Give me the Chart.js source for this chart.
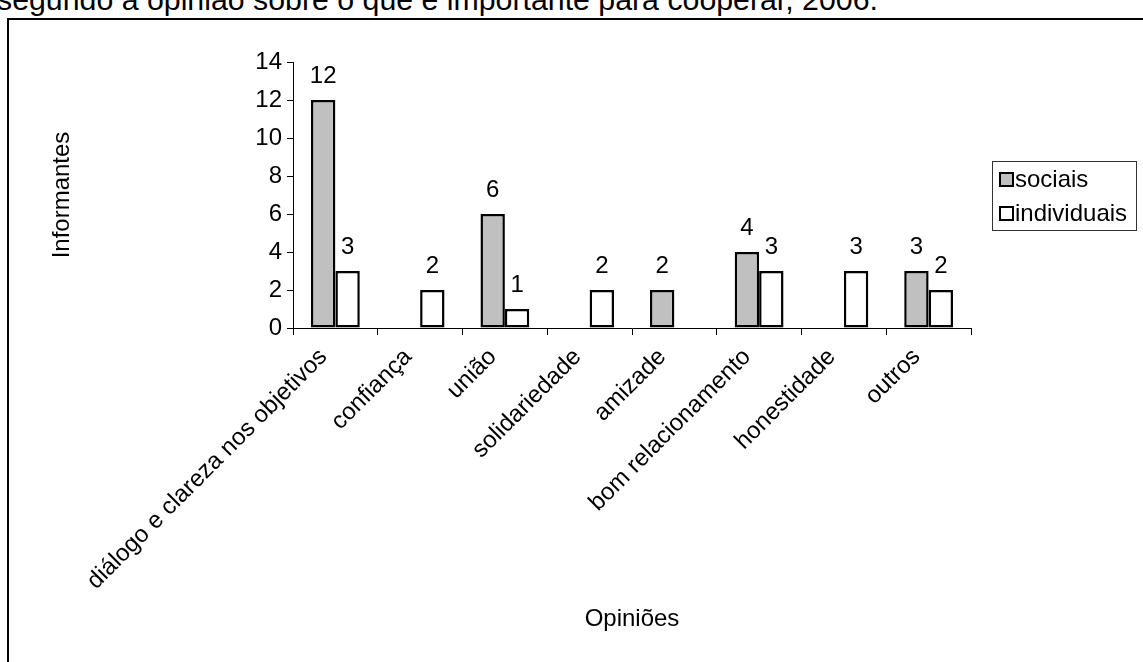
<!DOCTYPE html>
<html lang="pt">
<head>
<meta charset="utf-8">
<title>Informantes segundo a opinião</title>
<script src="https://cdn.jsdelivr.net/npm/chart.js@4/dist/chart.umd.min.js"></script>
<style>
  html, body { margin: 0; padding: 0; background: #fff; overflow: hidden; }
  #wrap { position: relative; width: 1143px; height: 662px; overflow: hidden; }
  #heading {
    position: absolute; left: -3px; top: -15px; margin: 0;
    font: 30.3px "Liberation Sans", Arial, sans-serif; line-height: 30px;
    color: #000; white-space: nowrap;
  }
  #frame {
    position: absolute; left: 7px; top: 18px; width: 1170px; height: 700px;
    border: 2px solid #000; box-sizing: border-box;
  }
  #chart { position: absolute; left: 0; top: 0; }
</style>
</head>
<body>
<div id="wrap">
  <p id="heading">segundo a opinião sobre o que é importante para cooperar, 2006.</p>
  <div id="frame"></div>
  <canvas id="chart" width="1143" height="662"></canvas>
</div>
<script>
// Opinion categories and number of respondents per group
const categories = [
  'diálogo e clareza nos objetivos',
  'confiança',
  'união',
  'solidariedade',
  'amizade',
  'bom relacionamento',
  'honestidade',
  'outros'
];
const sociais     = [12, null, 6, null, 2, 4, null, 3];
const individuais = [3, 2, 1, 2, null, 3, 3, 2];
const seriesNames = ['sociais', 'individuais'];
const yTickValues = [0, 2, 4, 6, 8, 10, 12, 14];

const FONT = '"Liberation Sans", Arial, sans-serif';

// Numbers printed above each bar
const barValueLabels = {
  id: 'barValueLabels',
  afterDatasetsDraw(chart) {
    const ctx = chart.ctx;
    ctx.save();
    ctx.font = '24px ' + FONT;
    ctx.fillStyle = '#000';
    ctx.textAlign = 'center';
    ctx.textBaseline = 'alphabetic';
    chart.data.datasets.forEach((ds, di) => {
      const meta = chart.getDatasetMeta(di);
      meta.data.forEach((bar, i) => {
        const v = ds.data[i];
        if (v === null || v === undefined) return;
        ctx.fillText(String(v), bar.x, bar.y - 17);
      });
    });
    ctx.restore();
  }
};

// Boxed legend at the right of the plot
const boxedLegend = {
  id: 'boxedLegend',
  afterDraw(chart) {
    const ctx = chart.ctx;
    const box = { x: 992.5, y: 161.5, w: 144, h: 69 };
    ctx.save();
    ctx.strokeStyle = '#333';
    ctx.lineWidth = 1;
    ctx.fillStyle = '#fff';
    ctx.fillRect(box.x, box.y, box.w, box.h);
    ctx.strokeRect(box.x, box.y, box.w, box.h);
    ctx.font = '24px ' + FONT;
    ctx.textBaseline = 'alphabetic';
    ctx.textAlign = 'left';
    chart.data.datasets.forEach((ds, di) => {
      const rowY = 173 + di * 34;
      ctx.fillStyle = ds.backgroundColor;
      ctx.fillRect(1000, rowY, 13, 13);
      ctx.strokeStyle = '#000';
      ctx.lineWidth = 2;
      ctx.strokeRect(1000, rowY, 13, 13);
      ctx.fillStyle = '#000';
      ctx.fillText(ds.label, 1015, rowY + 14);
    });
    ctx.restore();
  }
};

new Chart(document.getElementById('chart'), {
  type: 'bar',
  data: {
    labels: categories,
    datasets: [
      {
        label: seriesNames[0],
        data: sociais,
        backgroundColor: '#c0c0c0',
        borderColor: '#000',
        borderWidth: 2.5,
        borderSkipped: false
      },
      {
        label: seriesNames[1],
        data: individuais,
        backgroundColor: '#ffffff',
        borderColor: '#000',
        borderWidth: 2.5,
        borderSkipped: false
      }
    ]
  },
  options: {
    responsive: false,
    animation: false,
    devicePixelRatio: 1,
    categoryPercentage: 0.576,
    barPercentage: 1.0,
    layout: { padding: { left: 48, right: 172, top: 62, bottom: 28 } },
    plugins: {
      legend: { display: false },
      tooltip: { enabled: false },
      title: { display: false }
    },
    scales: {
      x: {
        offset: true,
        grid: {
          offset: true,
          drawOnChartArea: false,
          drawTicks: true,
          tickLength: 7,
          color: '#000'
        },
        border: { display: true, color: '#000', width: 1 },
        ticks: {
          color: '#000',
          font: { family: FONT, size: 24 },
          minRotation: 45,
          maxRotation: 45,
          autoSkip: false,
          padding: 8,
          labelOffset: -12
        },
        title: {
          display: true,
          text: 'Opiniões',
          color: '#000',
          font: { family: FONT, size: 24 },
          padding: 0
        },
        afterFit(scale) { scale.height = 306; }
      },
      y: {
        min: 0,
        max: 14,
        afterBuildTicks(scale) {
          scale.ticks = yTickValues.map(v => ({ value: v }));
        },
        grid: {
          drawOnChartArea: false,
          drawTicks: true,
          tickLength: 6,
          color: '#000'
        },
        border: { display: true, color: '#000', width: 1 },
        ticks: {
          color: '#000',
          font: { family: FONT, size: 24 },
          padding: 5
        },
        title: {
          display: true,
          text: 'Informantes',
          color: '#000',
          font: { family: FONT, size: 24 },
          padding: 0
        },
        afterFit(scale) { scale.width = 245; }
      }
    }
  },
  plugins: [barValueLabels, boxedLegend]
});
</script>
</body>
</html>
